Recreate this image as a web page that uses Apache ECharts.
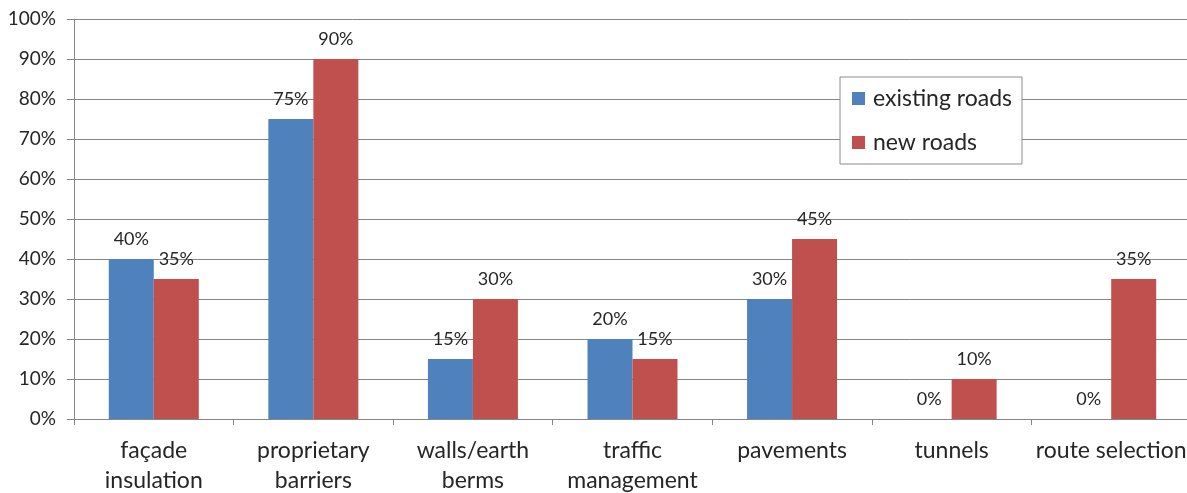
<!DOCTYPE html>
<html>
<head>
<meta charset="utf-8">
<script src="https://cdn.jsdelivr.net/npm/echarts@6/dist/echarts.min.js"></script>
<style>
html,body{margin:0;padding:0;background:#fff;overflow:hidden;}
#chart{width:1187px;height:493px;}
</style>
</head>
<body>
<div id="chart"></div>
<script>
const categories = ["façade\ninsulation", "proprietary\nbarriers", "walls/earth\nberms", "traffic\nmanagement", "pavements", "tunnels", "route selection"];
const existingRoads = [40, 75, 15, 20, 30, 0, 0];
const newRoads = [35, 90, 30, 15, 45, 10, 35];
const seriesNames = ["existing roads", "new roads"];
const yTicks = { min: 0, max: 100, interval: 10 };

const FONT = 'Lato';
const chart = echarts.init(document.getElementById('chart'), null, {renderer: 'canvas'});
const labelCfg = {
  show: true, position: 'top', distance: 11,
  formatter: '{c}%', fontFamily: FONT, fontSize: 18, color: '#262626'
};
chart.setOption({
  animation: false,
  textStyle: { fontFamily: FONT },
  grid: { left: 74, right: -4, top: 19, bottom: 74, containLabel: false, outerBoundsMode: 'none' },
  legend: {
    orient: 'vertical', left: 840, top: 77,
    padding: [10, 10, 10, 12],
    itemWidth: 13, itemHeight: 13, itemGap: 21,
    borderColor: '#8c8c8c', borderWidth: 1, backgroundColor: '#fff',
    icon: 'rect',
    textStyle: { fontFamily: FONT, fontSize: 23, color: '#262626', lineHeight: 22, padding: [0, 0, 0, 3] },
    data: seriesNames
  },
  xAxis: {
    type: 'category', data: categories,
    axisLine: { lineStyle: { color: '#868686', width: 1 } },
    axisTick: { show: true, length: 6, lineStyle: { color: '#868686' } },
    axisLabel: { fontFamily: FONT, fontSize: 23, color: '#262626', lineHeight: 30, margin: 17, interval: 0 }
  },
  yAxis: {
    type: 'value', min: yTicks.min, max: yTicks.max, interval: yTicks.interval,
    axisLine: { show: true, lineStyle: { color: '#868686' } },
    axisTick: { show: true, length: 7, lineStyle: { color: '#868686' } },
    splitLine: { lineStyle: { color: '#868686', width: 1 } },
    axisLabel: { formatter: '{value}%', fontFamily: FONT, fontSize: 19, color: '#262626', margin: 18 }
  },
  series: [
    { name: seriesNames[0], type: 'bar', data: existingRoads, barWidth: 45, barGap: '0%',
      itemStyle: { color: '#4F81BD' }, label: labelCfg },
    { name: seriesNames[1], type: 'bar', data: newRoads, barWidth: 45, barGap: '0%',
      itemStyle: { color: '#C0504D' }, label: labelCfg }
  ]
});
</script>
</body>
</html>
